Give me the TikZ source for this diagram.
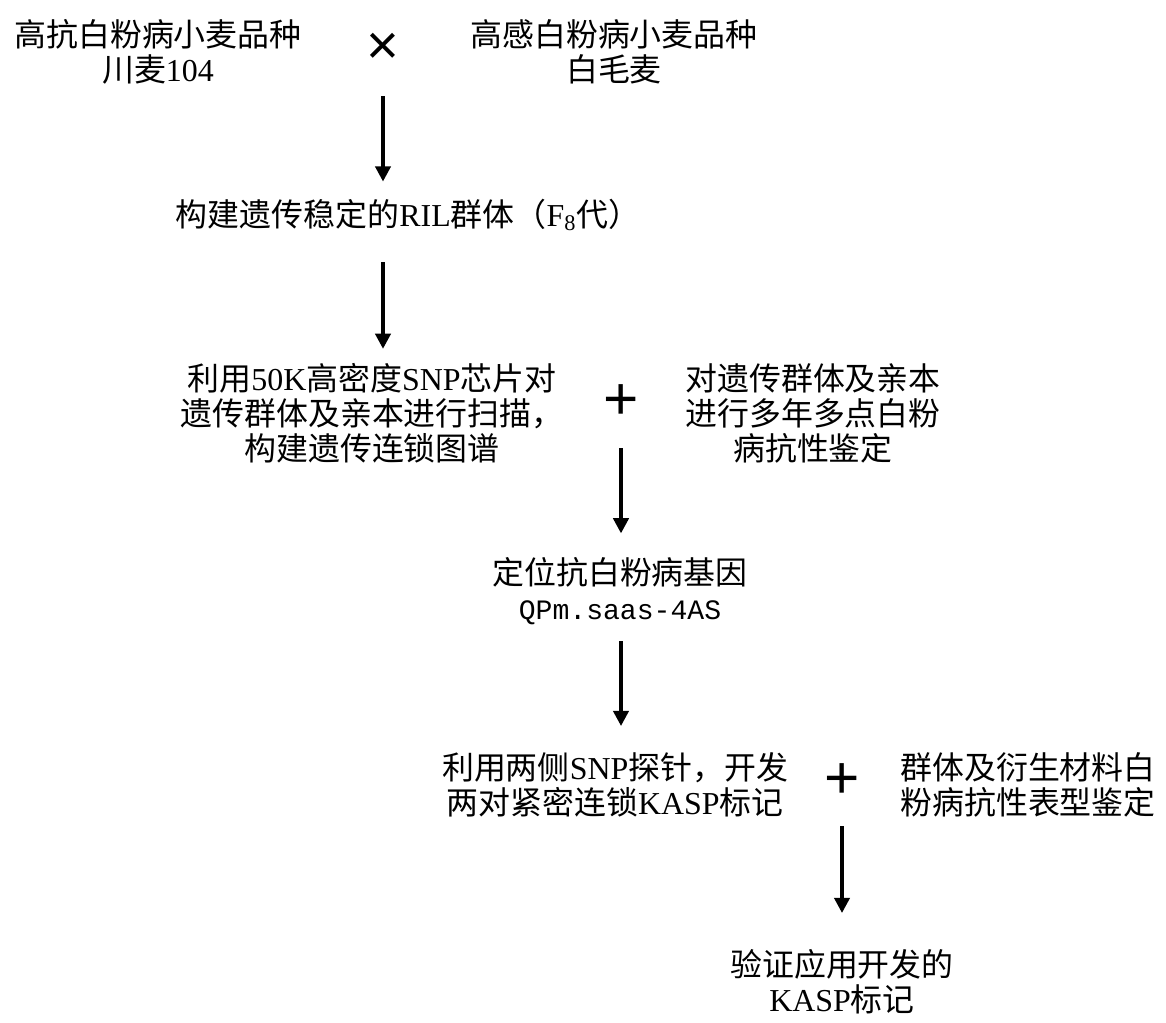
\documentclass[tikz,border=0pt]{standalone}
\usepackage{fontspec}
\setmainfont{Liberation Serif}
\newfontfamily\cjk{Noto Sans CJK SC}
\newfontfamily\segnofont{Liberation Sans}
\newfontfamily\codicefont[Scale=0.88]{Liberation Mono}
\newcommand{\lat}[1]{{\rmfamily #1}}
\usetikzlibrary{arrows.meta}

\tikzset{
  testo/.style={font=\cjk\fontsize{22.7}{24.9}\selectfont, align=center, inner sep=0pt},
  segno/.style={font=\segnofont\fontsize{40}{40}\selectfont, inner sep=0pt},
  piu/.style={font=\segnofont\fontsize{43}{43}\selectfont, inner sep=0pt},
  freccia/.style={line width=0.09cm, -{Triangle[length=0.38cm,width=0.38cm]}}
}

\begin{document}
\begin{tikzpicture}[x=0.025cm, y=-0.025cm]
    \useasboundingbox (0,0) rectangle (1166,1023);
    % incrocio dei due parentali
    \node[testo] (resistente) at (158,52) {高抗白粉病小麦品种\\川麦\lat{104}};
    \node[segno] (incrocio) at (383,49) {×};
    \node[testo] (sensibile) at (614,52) {高感白粉病小麦品种\\白毛麦};
    \node[testo] (ril) at (408,215) {构建遗传稳定的\lat{RIL}群体（\lat{F\textsubscript{8}}代）};
    % genotipizzazione + fenotipizzazione
    \node[testo] (chip) at (372,413) {利用\lat{50K}高密度\lat{SNP}芯片对\\遗传群体及亲本进行扫描，\\构建遗传连锁图谱};
    \node[piu] (piuA) at (621,402) {+};
    \node[testo] (campo) at (813,413) {对遗传群体及亲本\\进行多年多点白粉\\病抗性鉴定};
    \node[testo] (gene) at (620,591) {定位抗白粉病基因\\{\codicefont QPm.saas-4AS}};
    % marcatori KASP
    \node[testo] (kasp) at (615,785) {利用两侧\lat{SNP}探针，开发\\两对紧密连锁\lat{KASP}标记};
    \node[piu] (piuB) at (842,781) {+};
    \node[testo] (fenotipo) at (1028,785) {群体及衍生材料白\\粉病抗性表型鉴定};
    \node[testo] (verifica) at (842,982) {验证应用开发的\\\lat{KASP}标记};
    % frecce
    \draw[freccia, shorten <=1.175cm, shorten >=0.425cm] (incrocio.center) -- (incrocio.center |- ril.north);
    \draw[freccia, shorten <=0.775cm, shorten >=0.35cm] (ril.south -| incrocio.center) -- (chip.north -| incrocio.center);
    \draw[freccia, shorten <=1.15cm, shorten >=0.59cm] (piuA.center) -- (piuA.center |- gene.north);
    \draw[freccia, shorten <=0.41cm, shorten >=0.66cm] (gene.south -| piuA.center) -- (kasp.north -| piuA.center);
    \draw[freccia, shorten <=1.125cm, shorten >=0.91cm] (piuB.center) -- (piuB.center |- verifica.north);
\end{tikzpicture}
\end{document}
